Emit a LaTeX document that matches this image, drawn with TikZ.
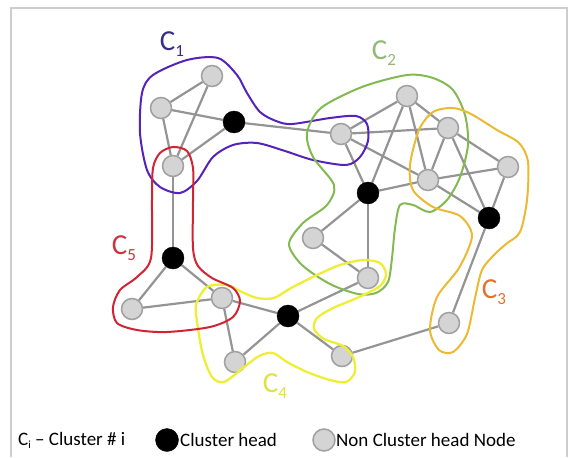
\documentclass[tikz,border=0pt]{standalone}
\usepackage{fontspec}
\setmainfont{Carlito}
\usetikzlibrary{backgrounds}
\begin{document}
\begin{tikzpicture}[x=1pt,y=-1pt]
\definecolor{edgec}{RGB}{148,148,148}
\definecolor{nfill}{RGB}{212,212,212}
\definecolor{nline}{RGB}{160,160,160}
\definecolor{cone}{RGB}{85,35,185}
\definecolor{conel}{RGB}{55,45,135}
\definecolor{ctwo}{RGB}{130,185,80}
\definecolor{ctwol}{RGB}{145,185,115}
\definecolor{cthree}{RGB}{235,185,50}
\definecolor{cthreel}{RGB}{225,115,45}
\definecolor{cfour}{RGB}{238,238,55}
\definecolor{cfourl}{RGB}{225,225,60}
\definecolor{cfive}{RGB}{210,35,50}
\definecolor{cfivel}{RGB}{200,55,65}
\definecolor{framec}{RGB}{205,205,205}
\tikzset{
  link/.style={draw=edgec,line width=2.2pt},
  gnode/.style={circle,draw=nline,fill=nfill,line width=1.5pt,minimum size=21pt,inner sep=0pt},
  bnode/.style={circle,draw=black,fill=black,minimum size=22pt,inner sep=0pt},
  cluster/.style={line width=2pt},
  clabel/.style={inner sep=0pt,font=\fontsize{29}{29}\selectfont},
  legtext/.style={inner sep=0pt,anchor=west,font=\fontsize{19}{19}\selectfont}
}
\newcommand{\csub}[1]{\raisebox{-6pt}{\fontsize{17}{17}\selectfont #1}}
\useasboundingbox (0,0) rectangle (569,457);
% frame
\draw[framec,line width=2pt] (11,457) -- (11,8) -- (567,8) -- (567,457);

% nodes
\node[gnode] (A) at (212,76) {};
\node[gnode] (B) at (161,108) {};
\node[bnode] (H1) at (234,122) {};
\node[gnode] (D) at (173,166) {};
\node[gnode] (E) at (407,96) {};
\node[gnode] (F) at (341,134) {};
\node[gnode] (G) at (448,128) {};
\node[gnode] (I) at (508,167) {};
\node[gnode] (J) at (428,180) {};
\node[bnode] (H2) at (368,193) {};
\node[bnode] (H3) at (489,218) {};
\node[gnode] (N) at (313,238) {};
\node[gnode] (O) at (368,278) {};
\node[bnode] (H5) at (173,258) {};
\node[gnode] (K) at (132,309) {};
\node[gnode] (L) at (222,298) {};
\node[bnode] (H4) at (288,316) {};
\node[gnode] (M) at (235,362) {};
\node[gnode] (P) at (342,356) {};
\node[gnode] (Q) at (449,323) {};

% edges
\begin{scope}[on background layer]
\foreach \a/\b in {A/B,A/D,B/D,B/H1,H1/D,H1/F,E/F,E/H2,E/J,E/G,F/G,F/H2,F/J,H2/J,G/J,G/H3,G/I,J/I,J/H3,I/H3,H3/Q,H2/N,H2/O,N/O,O/H4,D/H5,H5/K,H5/L,K/L,L/M,L/H4,H4/M,H4/P,P/Q}
  \draw[link] (\a) -- (\b);
\end{scope}

% clusters
\draw[cluster,cone] plot[smooth cycle] coordinates {
 (218,58) (237,75) (247,93) (260,112) (276,121) (292,124) (330,118) (356,116) (367,124) (368,141) (360,157) (346,165) (313,160) (285,151) (257,143) (233,145) (213,157) (197,181) (180,193) (160,187) (147,170) (140,133) (142,93) (153,75) (187,60)};
\draw[cluster,ctwo] plot[smooth cycle] coordinates {
 (407,75) (433,78) (453,90) (465,115) (468,145) (460,177) (447,200) (430,212) (413,205) (400,205) (395,228) (392,258) (388,282) (376,293) (358,294) (330,284) (302,265) (289,244) (303,223) (327,205) (334,185) (313,157) (307,133) (321,108) (362,87)};
\draw[cluster,cthree] plot[smooth cycle] coordinates {
 (453,108) (471,114) (497,130) (519,143) (528,162) (527,200) (520,232) (506,244) (494,255) (482,270) (475,298) (467,334) (453,352) (439,350) (430,330) (437,297) (459,268) (472,236) (460,216) (433,207) (413,190) (410,165) (419,130) (433,112)};
\draw[cluster,cfour,line width=2.3pt] plot[smooth cycle] coordinates {
 (207,287) (227,285) (242,292) (257,298) (274,298) (291,288) (317,275) (340,265) (363,260) (380,263) (386,274) (380,286) (357,298) (333,308) (317,318) (314,329) (324,339) (343,346) (353,357) (355,372) (346,382) (330,380) (307,372) (287,362) (273,353) (259,356) (243,368) (224,382) (212,377) (203,355) (198,328) (196,305)};
\draw[cluster,cfive] plot[smooth cycle] coordinates {
 (173,147) (187,151) (193,168) (193,200) (193,248) (198,266) (212,278) (233,288) (240,301) (233,317) (210,327) (167,332) (137,330) (117,323) (113,307) (120,290) (137,277) (151,258) (152,200) (153,168) (160,153)};

% cluster labels
\node[clabel,text=conel] (l1) at (172,44) {C\csub{1}};
\node[clabel,text=ctwol] (l2) at (384,53) {C\csub{2}};
\node[clabel,text=cthreel] (l3) at (494,292) {C\csub{3}};
\node[clabel,text=cfourl] (l4) at (275,386) {C\csub{4}};
\node[clabel,text=cfivel] (l5) at (124,248) {C\csub{5}};

% legend
\node[legtext] (lt1) at (18,440) {C\raisebox{-3pt}{\fontsize{11}{11}\selectfont i} – Cluster \# i};
\node[bnode,minimum size=23pt] (lb) at (167,440) {};
\node[legtext] (lt2) at (180,440) {Cluster head};
\node[gnode,minimum size=22pt] (lg) at (324,440) {};
\node[legtext] (lt3) at (336,440) {Non Cluster head Node};
\end{tikzpicture}
\end{document}
